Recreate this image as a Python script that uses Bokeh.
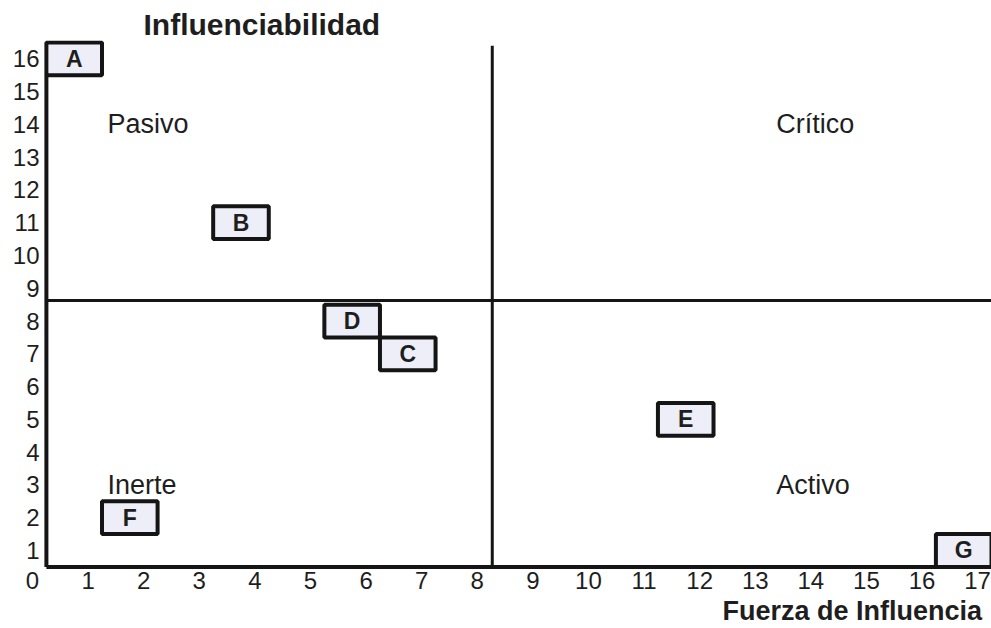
from bokeh.plotting import figure
from bokeh.models import Range1d, FixedTicker, Title, ColumnDataSource
from bokeh.core.properties import value
from bokeh.embed import file_html
from bokeh.resources import INLINE

# ---- data ----
box_labels = ["A", "B", "C", "D", "E", "F", "G"]
box_x = [0.75, 3.75, 6.75, 5.75, 11.75, 1.75, 16.75]   # Fuerza de Influencia
box_y = [16, 11, 7, 8, 5, 2, 1]                        # Influenciabilidad

quadrant_names = ["Pasivo", "Crítico", "Inerte", "Activo"]
quadrant_x = [1.35, 13.38, 1.35, 13.38]
quadrant_y = [14, 14, 3, 3]

x_ticks = list(range(0, 18))
y_ticks = list(range(1, 17))

divider_x = 8.27
divider_y = 8.63

FONT = "Liberation Sans"
INK = "#151515"
TXT = "#1e1e1e"

p = figure(width=991, height=628,
           x_range=Range1d(0, 17.25), y_range=Range1d(0.42, 16.56),
           output_backend="svg", toolbar_location=None,
           min_border_left=32, min_border_right=0,
           min_border_top=40, min_border_bottom=59)
p.grid.visible = False
p.outline_line_color = None
p.background_fill_color = "white"
p.border_fill_color = "white"

# axes: labels only
p.xaxis.ticker = FixedTicker(ticks=x_ticks)
p.yaxis.ticker = FixedTicker(ticks=y_ticks)
for ax in (p.xaxis, p.yaxis):
    ax.axis_line_color = None
    ax.major_tick_line_color = None
    ax.minor_tick_line_color = None
    ax.major_tick_out = 0
    ax.major_tick_in = 0
    ax.major_label_text_font = FONT
    ax.major_label_text_font_size = "24px"
    ax.major_label_text_color = TXT
p.xaxis.major_label_standoff = 2
p.yaxis.major_label_standoff = -7

# titles
t_top = Title(text="Influenciabilidad", align="left", offset=111,
              text_font=FONT, text_font_size="30px", text_font_style="bold",
              text_color=TXT, standoff=0)
p.add_layout(t_top, "above")
t_bot = Title(text="Fuerza de Influencia", align="left", offset=690,
              text_font=FONT, text_font_size="27px", text_font_style="bold",
              text_color=TXT, standoff=5)
p.add_layout(t_bot, "below")

# axis lines (drawn in data space)
p.segment(x0=[0.25, 0.25], y0=[0.5, 0.5], x1=[0.25, 17.3], y1=[15.5, 0.5],
          line_color=INK, line_width=4)
# quadrant dividers
p.segment(x0=[divider_x, 0.25], y0=[0.5, divider_y], x1=[divider_x, 17.3], y1=[16.4, divider_y],
          line_color=INK, line_width=3)

# quadrant names
p.text(x=quadrant_x, y=quadrant_y, text=quadrant_names,
       text_font=value(FONT), text_font_size="27px", text_color=TXT,
       text_align="left", text_baseline="middle")

# boxes
src = ColumnDataSource(dict(x=box_x, y=box_y, t=box_labels))
p.rect(x="x", y="y", width=1.0, height=1.0, source=src,
       fill_color="#eeeef8", line_color=INK, line_width=4)
p.text(x="x", y="y", text="t", source=src,
       text_font=value(FONT), text_font_size="23px", text_font_style="bold",
       text_color=TXT, text_align="center", text_baseline="middle")

open("out.html", "w").write(file_html(p, INLINE))
